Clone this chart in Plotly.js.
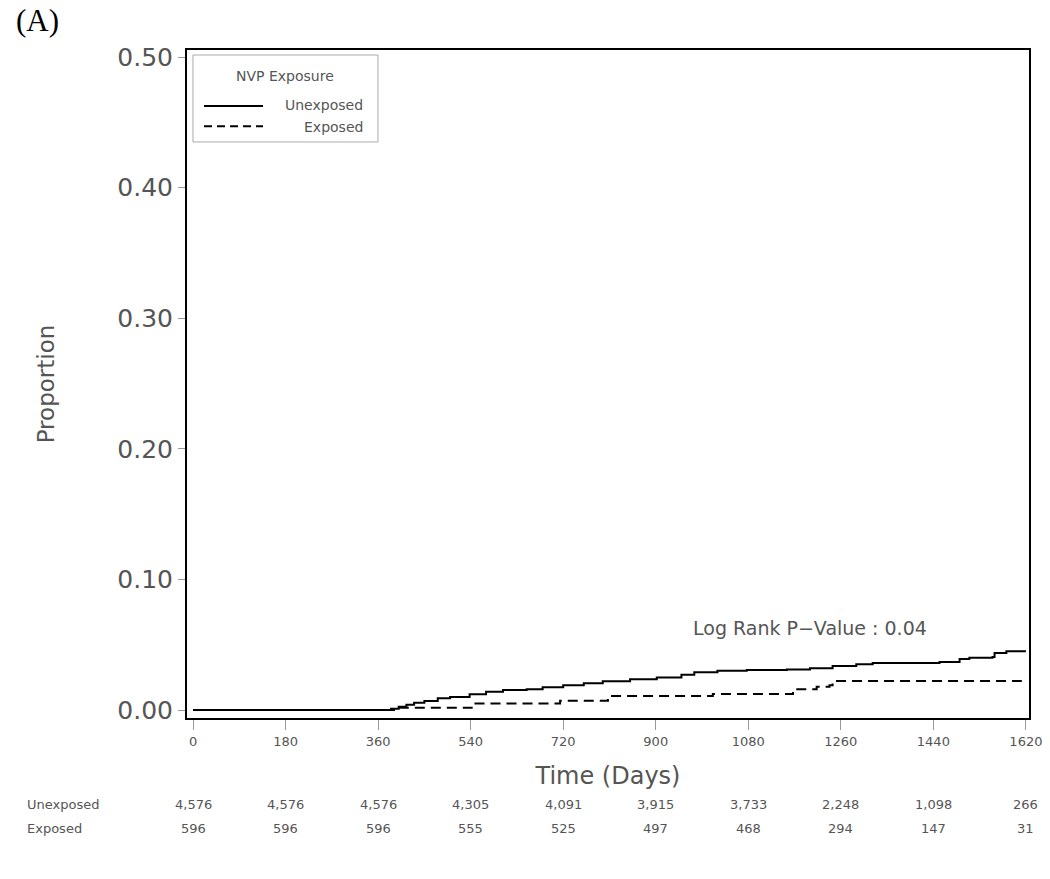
<!DOCTYPE html>
<html>
<head>
<meta charset="utf-8">
<script src="https://cdn.plot.ly/plotly-3.0.1.min.js"></script>
<style>html,body{margin:0;padding:0;background:#fff;}#chart{width:1050px;height:879px;}</style>
</head>
<body>
<div id="chart"></div>
<script>
// Kaplan-Meier style cumulative proportion
const unexposedDays = [0, 370, 385, 400, 415, 430, 450, 476, 500, 538, 570, 603, 649, 680, 720, 760, 797, 850, 902, 950, 975, 1020, 1077, 1155, 1200, 1244, 1290, 1322, 1452, 1491, 1510, 1555, 1559, 1582, 1620];
const unexposedProp = [0, 0, 0.001, 0.0025, 0.004, 0.0055, 0.007, 0.009, 0.010, 0.012, 0.014, 0.0153, 0.016, 0.0175, 0.019, 0.0205, 0.022, 0.0235, 0.025, 0.027, 0.029, 0.030, 0.0307, 0.031, 0.032, 0.0337, 0.035, 0.036, 0.0368, 0.039, 0.040, 0.0406, 0.0437, 0.045, 0.045];
const exposedDays = [0, 395, 542, 714, 807, 1011, 1167, 1213, 1238, 1244, 1612];
const exposedProp = [0, 0.0017, 0.005, 0.0071, 0.0107, 0.0123, 0.0159, 0.0179, 0.019, 0.0222, 0.0222];

const tickDays = [0, 180, 360, 540, 720, 900, 1080, 1260, 1440, 1620];
const yTicks = [0, 0.1, 0.2, 0.3, 0.4, 0.5];
const yTickLabels = ['0.00', '0.10', '0.20', '0.30', '0.40', '0.50'];
const atRiskUnexposed = ['4,576', '4,576', '4,576', '4,305', '4,091', '3,915', '3,733', '2,248', '1,098', '266'];
const atRiskExposed = ['596', '596', '596', '555', '525', '497', '468', '294', '147', '31'];
const groupNames = ['Unexposed', 'Exposed'];
const legendTitle = 'NVP Exposure';
const pValueText = 'Log Rank P\u2212Value : 0.04';

const FONT = 'DejaVu Sans, sans-serif';
const TXT = '#555';

const traces = [
  {x: unexposedDays, y: unexposedProp, mode: 'lines', line: {shape: 'hv', color: '#000', width: 2}, name: groupNames[0], showlegend: false, hoverinfo: 'x+y'},
  {x: exposedDays, y: exposedProp, mode: 'lines', line: {shape: 'hv', color: '#000', width: 2, dash: '10px,6px'}, name: groupNames[1], showlegend: false, hoverinfo: 'x+y'}
];

const annotations = [];
// at-risk table
const rowY = [-0.130, -0.166];
[atRiskUnexposed, atRiskExposed].forEach((row, r) => {
  annotations.push({xref: 'paper', yref: 'paper', x: -0.1924, y: rowY[r], xanchor: 'left', yanchor: 'middle', text: groupNames[r], showarrow: false, font: {family: FONT, size: 13, color: TXT}});
  row.forEach((v, i) => {
    annotations.push({xref: 'x', yref: 'paper', x: tickDays[i], y: rowY[r], xanchor: 'center', yanchor: 'middle', text: v, showarrow: false, font: {family: FONT, size: 13, color: TXT}});
  });
});
// p-value
annotations.push({xref: 'x', yref: 'y', x: 968, y: 0.063, xanchor: 'left', yanchor: 'middle', text: pValueText, showarrow: false, font: {family: FONT, size: 19, color: TXT}});
// panel label
annotations.push({xref: 'paper', yref: 'paper', x: -0.2055, y: 1.044, xanchor: 'left', yanchor: 'middle', text: '(A)', showarrow: false, font: {family: 'Liberation Serif, Times New Roman, serif', size: 31, color: '#000'}});
// legend (drawn manually)
annotations.push({xref: 'paper', yref: 'paper', x: 0.1164, y: 0.961, xanchor: 'center', yanchor: 'middle', text: legendTitle, showarrow: false, font: {family: FONT, size: 14, color: TXT}});
annotations.push({xref: 'paper', yref: 'paper', x: 0.2114, y: 0.9177, xanchor: 'right', yanchor: 'middle', text: groupNames[0], showarrow: false, font: {family: FONT, size: 14, color: TXT}});
annotations.push({xref: 'paper', yref: 'paper', x: 0.2114, y: 0.8847, xanchor: 'right', yanchor: 'middle', text: groupNames[1], showarrow: false, font: {family: FONT, size: 14, color: TXT}});

const shapes = [
  {type: 'rect', xref: 'paper', yref: 'paper', x0: 0.0071, x1: 0.2268, y0: 0.8623, y1: 0.9925, line: {color: '#aaa', width: 1}, fillcolor: 'rgba(0,0,0,0)'},
  {type: 'line', xref: 'paper', yref: 'paper', x0: 0.0202, x1: 0.0903, y0: 0.9162, y1: 0.9162, line: {color: '#000', width: 2}},
  {type: 'line', xref: 'paper', yref: 'paper', x0: 0.0202, x1: 0.0903, y0: 0.886, y1: 0.886, line: {color: '#000', width: 2, dash: '8px,5px'}}
];

const layout = {
  width: 1050, height: 879,
  margin: {l: 187, r: 21, t: 50, b: 161},
  paper_bgcolor: '#fff', plot_bgcolor: '#fff',
  showlegend: false,
  xaxis: {
    range: [-11.7, 1626], tickvals: tickDays, ticktext: tickDays.map(String),
    showgrid: false, zeroline: false,
    showline: true, linecolor: '#000', linewidth: 2, mirror: true,
    ticks: 'outside', ticklen: 10, tickcolor: '#999', tickwidth: 1,
    tickfont: {family: FONT, size: 13, color: TXT},
    title: {text: 'Time (Days)', font: {family: FONT, size: 24, color: TXT}, standoff: 20}
  },
  yaxis: {
    range: [-0.0061, 0.5054], tickvals: yTicks, ticktext: yTickLabels,
    showgrid: false, zeroline: false,
    showline: true, linecolor: '#000', linewidth: 2, mirror: true,
    ticks: 'outside', ticklen: 7, tickcolor: '#999', tickwidth: 1,
    tickfont: {family: FONT, size: 25, color: TXT},
    title: {text: 'Proportion', font: {family: FONT, size: 23, color: TXT}, standoff: 56}
  },
  annotations: annotations,
  shapes: shapes
};

Plotly.newPlot('chart', traces, layout, {displayModeBar: false, responsive: false});
</script>
</body>
</html>
